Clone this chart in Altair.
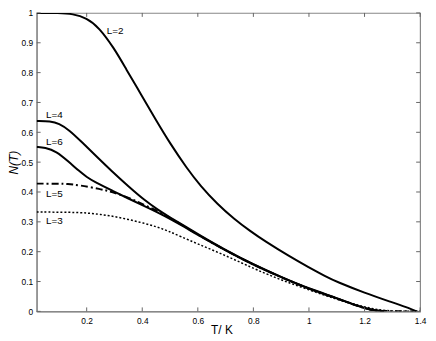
import altair as alt
import pandas as pd

# ---- data ----
T2 = [0.02, 0.10, 0.15, 0.20, 0.244, 0.30, 0.34, 0.40, 0.45, 0.50, 0.56, 0.61, 0.67, 0.73, 0.79, 0.84, 0.93, 1.00, 1.06, 1.10, 1.20, 1.30, 1.35, 1.38, 1.39]
N2 = [1.0, 1.0, 0.997, 0.983, 0.952, 0.88, 0.815, 0.72, 0.64, 0.563, 0.48, 0.42, 0.36, 0.31, 0.268, 0.236, 0.184, 0.147, 0.117, 0.099, 0.062, 0.030, 0.014, 0.003, 0.0]

T4 = [0.02, 0.07, 0.10, 0.137, 0.184, 0.232, 0.291, 0.35, 0.41, 0.457, 0.50, 0.55, 0.60, 0.70, 0.80, 0.90, 1.00, 1.10, 1.17, 1.22, 1.27]
N4 = [0.638, 0.637, 0.630, 0.608, 0.566, 0.522, 0.469, 0.419, 0.371, 0.340, 0.315, 0.287, 0.259, 0.205, 0.157, 0.115, 0.076, 0.045, 0.02, 0.006, 0.0]

T6 = [0.02, 0.05, 0.09, 0.137, 0.173, 0.20, 0.232, 0.291, 0.35, 0.41, 0.457, 0.50, 0.55, 0.60, 0.70, 0.80, 0.90, 1.00, 1.10, 1.17, 1.22, 1.27]
N6 = [0.551, 0.549, 0.537, 0.500, 0.470, 0.450, 0.432, 0.405, 0.378, 0.352, 0.331, 0.310, 0.284, 0.256, 0.204, 0.156, 0.114, 0.075, 0.044, 0.019, 0.005, 0.0]

T5 = [0.02, 0.10, 0.13, 0.173, 0.25, 0.291, 0.35, 0.40, 0.457, 0.50, 0.55, 0.60, 0.70, 0.80, 0.90, 1.00, 1.10, 1.17, 1.22, 1.27, 1.40]
N5 = [0.428, 0.428, 0.427, 0.423, 0.41, 0.400, 0.382, 0.360, 0.335, 0.313, 0.286, 0.257, 0.204, 0.156, 0.114, 0.075, 0.044, 0.019, 0.005, 0.0, 0.0]

T3 = [0.02, 0.15, 0.20, 0.25, 0.30, 0.35, 0.40, 0.45, 0.492, 0.54, 0.60, 0.67, 0.74, 0.812, 0.90, 1.00, 1.10, 1.19, 1.27, 1.40]
N3 = [0.333, 0.332, 0.330, 0.325, 0.318, 0.308, 0.297, 0.284, 0.27, 0.25, 0.226, 0.199, 0.17, 0.139, 0.105, 0.072, 0.04, 0.017, 0.0, 0.0]

x_ticks = [0.2, 0.4, 0.6, 0.8, 1.0, 1.2, 1.4]
y_ticks = [0, 0.1, 0.2, 0.3, 0.4, 0.5, 0.6, 0.7, 0.8, 0.9, 1.0]

lab_text = ["L=2", "L=4", "L=6", "L=5", "L=3"]
lab_T = [0.272, 0.054, 0.054, 0.054, 0.054]
lab_N = [0.94, 0.658, 0.568, 0.392, 0.303]

W, H = 388, 302
FONT = "Liberation Sans"
INTERP = "basis"

def frame(Ts, Ns, name):
    return pd.DataFrame({"T": Ts, "N": Ns, "L": name})

solid = pd.concat([frame(T2, N2, "2"), frame(T4, N4, "4"), frame(T6, N6, "6")])
dashdot = frame(T5, N5, "5")
dotted = frame(T3, N3, "3")

xs = alt.Scale(domain=[0.02, 1.4], nice=False, zero=False)
ys = alt.Scale(domain=[0, 1], nice=False)

x_axis = alt.Axis(values=x_ticks, format="~g", tickSize=0, labelPadding=5,
                  titlePadding=0, titleX=187, grid=False, labelOverlap=False, labelFlush=False)
y_axis = alt.Axis(values=y_ticks, format="~g", tickSize=0, labelPadding=4,
                  titlePadding=1, grid=False, titleFontStyle="italic",
                  labelOverlap=False, labelFlush=False)

def X(f):
    return alt.X(f, scale=xs, title="T/ K", axis=x_axis)

def Y(f):
    return alt.Y(f, scale=ys, title="N(T)", axis=y_axis)

l_solid = alt.Chart(solid).mark_line(color="black", strokeWidth=2, interpolate=INTERP,
                                     clip=True).encode(x=X("T:Q"), y=Y("N:Q"), detail="L:N")
l_dot = alt.Chart(dotted).mark_line(color="black", strokeWidth=1.5, strokeDash=[2, 2],
                                    interpolate=INTERP, clip=True).encode(x=X("T:Q"), y=Y("N:Q"))
l_dd = alt.Chart(dashdot).mark_line(color="black", strokeWidth=2, strokeDash=[7, 3, 2, 3],
                                   interpolate=INTERP, clip=True).encode(x=X("T:Q"), y=Y("N:Q"))

labels = alt.Chart(pd.DataFrame({"t": lab_text, "T": lab_T, "N": lab_N})).mark_text(
    align="left", baseline="middle", font=FONT, fontSize=10, color="black"
).encode(x=X("T:Q"), y=Y("N:Q"), text="t:N")

xt = pd.DataFrame({"T": x_ticks})
yt = pd.DataFrame({"N": y_ticks})
tick_col = "#666666"
tb = alt.Chart(xt).mark_rule(color=tick_col, strokeWidth=1).encode(
    x=X("T:Q"), y=alt.value(H), y2=alt.value(H - 4))
tt = alt.Chart(xt).mark_rule(color=tick_col, strokeWidth=1).encode(
    x=X("T:Q"), y=alt.value(0), y2=alt.value(4))
tl = alt.Chart(yt).mark_rule(color=tick_col, strokeWidth=1).encode(
    y=Y("N:Q"), x=alt.value(0), x2=alt.value(4))
tr = alt.Chart(yt).mark_rule(color=tick_col, strokeWidth=1).encode(
    y=Y("N:Q"), x=alt.value(W), x2=alt.value(W - 4))

chart = alt.layer(l_solid, l_dot, l_dd, labels, tb, tt, tl, tr).properties(
    width=W, height=H,
    autosize=alt.AutoSizeParams(type="none"),
    padding={"left": 29, "top": 3, "right": 8, "bottom": 28},
).configure_view(stroke="#888888", strokeWidth=1.2).configure_axis(
    domainColor="#888888", domainWidth=1.2,
    labelFont=FONT, labelFontSize=8.5, labelColor="black",
    titleFont=FONT, titleFontSize=12, titleFontWeight="normal", titleColor="black",
)

chart.save("out.html", embed_options={"renderer": "svg", "actions": False})
